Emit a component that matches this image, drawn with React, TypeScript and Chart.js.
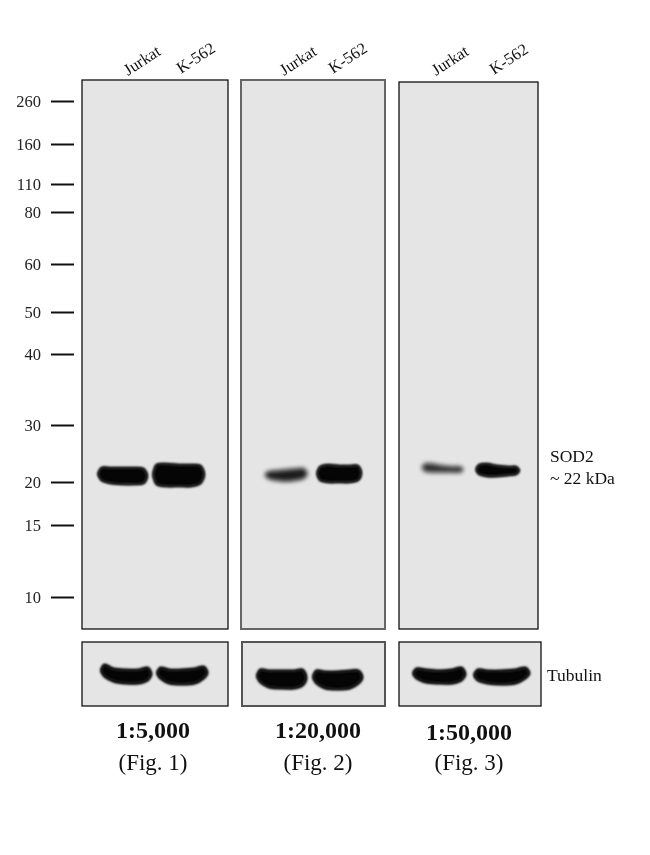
import { useEffect, useRef } from "react";
import { Chart, registerables, Plugin } from "chart.js";

const SERIF = '"Liberation Serif", serif';

// marker ladder, kDa and the gel row it runs to
const ladderKda = [260, 160, 110, 80, 60, 50, 40, 30, 20, 15, 10];
const ladderRows = [101, 144, 184, 212, 264, 312, 354, 425, 482, 525, 597];

const lanes = ["Jurkat", "K-562"];
const dilutions = ["1:5,000", "1:20,000", "1:50,000"];
const figures = ["(Fig. 1)", "(Fig. 2)", "(Fig. 3)"];

// SOD2 bands (Jurkat, K-562 for each blot), upper and lower edge along the band
const sodTops = [
  [468, 468, 468, 468, 469],
  [465, 464, 465, 465, 466],
  [472, 471, 470, 469, 469],
  [467, 465, 466, 466, 466],
  [464, 464, 466, 467, 467],
  [465, 464, 466, 467, 467],
];
const sodBottoms = [
  [480, 483, 484, 484, 483],
  [484, 486, 486, 486, 483],
  [478, 480, 481, 480, 478],
  [480, 482, 482, 482, 480],
  [471, 472, 472, 472, 472],
  [474, 476, 476, 475, 474],
];

// Tubulin bands, same order
const tubulinTops = [
  [665, 669, 670, 670, 668],
  [668, 670, 670, 669, 667],
  [670, 671, 671, 671, 670],
  [671, 672, 672, 671, 671],
  [669, 670, 671, 670, 668],
  [670, 671, 671, 670, 668],
];
const tubulinBottoms = [
  [676, 681, 683, 683, 680],
  [678, 683, 684, 683, 678],
  [682, 687, 688, 688, 685],
  [683, 688, 689, 688, 683],
  [678, 682, 683, 683, 680],
  [680, 683, 684, 683, 678],
];

// layout of the picture, in canvas px
const blotBoxes = [
  { l: 82, r: 228, t: 80, b: 629, edge: "#111", line: 1.3 },
  { l: 241, r: 385, t: 80, b: 629, edge: "#666", line: 2 },
  { l: 399, r: 538, t: 82, b: 629, edge: "#111", line: 1.3 },
];
const tubulinBoxes = [
  { l: 82, r: 228, t: 642, b: 706, edge: "#111", line: 1.3 },
  { l: 242, r: 385, t: 642, b: 706, edge: "#555", line: 2 },
  { l: 399, r: 541, t: 642, b: 706, edge: "#111", line: 1.3 },
];
const sodLanes = [
  [98, 147],
  [153, 204],
  [265, 307],
  [317, 361],
  [422, 463],
  [476, 519],
];
const tubulinLanes = [
  [101, 151],
  [157, 207],
  [257, 306],
  [313, 362],
  [413, 465],
  [474, 529],
];
const laneLabelAnchors = [
  [128, 76, 181, 74],
  [284, 76, 333, 74],
  [436, 76, 494, 75],
];
const captionCenters = [153, 318, 469];
const captionRows = [738, 738, 740];
const edgeSpots = [0.07, 0.25, 0.5, 0.75, 0.93];

// one closed outline per band: along the top, round the end, back along the bottom
const bandOutline = (top: number[], bottom: number[], lane: number[]) => {
  const [x0, x1] = lane;
  const at = (f: number) => x0 + (x1 - x0) * f;
  const last = top.length - 1;
  const start = { x: x0, y: (top[0] + bottom[0]) / 2 };
  return [
    start,
    ...top.map((y, k) => ({ x: at(edgeSpots[k]), y })),
    { x: x1, y: (top[last] + bottom[last]) / 2 },
    ...bottom.map((y, k) => ({ x: at(edgeSpots[k]), y })).reverse(),
    start,
  ];
};

const sodDatasets = sodTops.map((top, i) => ({
  label: `SOD2 ${lanes[i % 2]} ${figures[Math.floor(i / 2)]}`,
  data: bandOutline(top, sodBottoms[i], sodLanes[i]),
  backgroundColor: i === 4 ? "#2c2c2c" : i === 2 ? "#1c1c1c" : "#050505",
  borderWidth: i === 4 || i === 2 ? 1 : 2.5,
}));

const tubulinDatasets = tubulinTops.map((top, i) => ({
  label: `Tubulin ${lanes[i % 2]} ${figures[Math.floor(i / 2)]}`,
  data: bandOutline(top, tubulinBottoms[i], tubulinLanes[i]),
  backgroundColor: "#050505",
  borderWidth: 3,
}));

// has to run before the Filler so that the band fill gets the blur too
const softBandPlugin: Plugin = {
  id: "softBand",
  beforeDatasetDraw(chart, args) {
    chart.ctx.save();
    chart.ctx.filter = args.index === 2 || args.index === 4 ? "blur(2px)" : "blur(1.3px)";
  },
  afterDatasetDraw(chart) {
    chart.ctx.restore();
  },
};

Chart.register(softBandPlugin);
Chart.register(...registerables);

// the blot frames sit behind the bands, the captions are plain text on top
const blotPlugin: Plugin = {
  id: "blot",
  beforeDatasetsDraw(chart) {
    const { ctx } = chart;
    const x = chart.scales.x;
    const y = chart.scales.y;
    [...blotBoxes, ...tubulinBoxes].forEach((box) => {
      const left = x.getPixelForValue(box.l);
      const top = y.getPixelForValue(box.t);
      const w = x.getPixelForValue(box.r) - left;
      const h = y.getPixelForValue(box.b) - top;
      ctx.save();
      ctx.fillStyle = "#e5e5e5";
      ctx.fillRect(left, top, w, h);
      ctx.strokeStyle = box.edge;
      ctx.lineWidth = box.line;
      ctx.strokeRect(left, top, w, h);
      ctx.restore();
    });
  },
  afterDraw(chart) {
    const { ctx } = chart;
    const text = (s: string, px: number, py: number, font: string, align: CanvasTextAlign) => {
      ctx.font = font;
      ctx.textAlign = align;
      ctx.fillText(s, px, py);
    };
    ctx.save();
    ctx.fillStyle = "#111";
    ctx.textBaseline = "alphabetic";
    laneLabelAnchors.forEach((a) => {
      lanes.forEach((name, i) => {
        ctx.save();
        ctx.translate(a[i * 2], a[i * 2 + 1]);
        ctx.rotate((-33 * Math.PI) / 180);
        text(name, 0, 0, `16.5px ${SERIF}`, "left");
        ctx.restore();
      });
    });
    captionCenters.forEach((cx, i) => {
      text(dilutions[i], cx, captionRows[i], `bold 24px ${SERIF}`, "center");
      text(figures[i], cx, 770, `23px ${SERIF}`, "center");
    });
    text("SOD2", 550, 462, `17.5px ${SERIF}`, "left");
    text("~ 22 kDa", 550, 484, `17.5px ${SERIF}`, "left");
    text("Tubulin", 547, 681, `17.5px ${SERIF}`, "left");
    ctx.restore();
  },
};

const App = () => {
  const chartRef = useRef<HTMLCanvasElement | null>(null);

  useEffect(() => {
    if (!chartRef.current) return;
    const chart = new Chart(chartRef.current, {
      type: "line",
      data: {
        datasets: [...sodDatasets, ...tubulinDatasets].map((d) => ({
          ...d,
          borderColor: d.backgroundColor,
          borderJoinStyle: "round" as const,
          pointRadius: 0,
          tension: 0.3,
          fill: "shape",
        })),
      },
      options: {
        animation: false,
        responsive: false,
        devicePixelRatio: 1,
        layout: { padding: 0 },
        plugins: { legend: { display: false }, tooltip: { enabled: false } },
        scales: {
          x: { type: "linear", min: 74, max: 650, display: false },
          y: {
            type: "linear",
            reverse: true,
            min: 0,
            max: 855,
            position: "left",
            afterBuildTicks: (scale) => {
              scale.ticks = ladderRows.map((value) => ({ value }));
            },
            afterFit: (scale) => {
              scale.width = 74;
              scale.paddingTop = 0;
              scale.paddingBottom = 0;
            },
            border: { display: false },
            grid: {
              drawOnChartArea: false,
              tickLength: 23,
              tickWidth: 2,
              tickColor: "#111",
            },
            ticks: {
              autoSkip: false,
              padding: 10,
              labelOffset: 1.5,
              color: "#222",
              font: { family: SERIF, size: 16.5 },
              callback: (value) => String(ladderKda[ladderRows.indexOf(Number(value))]),
            },
          },
        },
      },
      plugins: [blotPlugin],
    });

    return () => {
      chart.destroy();
    };
  }, []);

  return (
    <canvas
      ref={chartRef}
      width={650}
      height={855}
      style={{ position: "absolute", left: 0, top: 0, background: "#fff" }}
    ></canvas>
  );
};

export default App;
